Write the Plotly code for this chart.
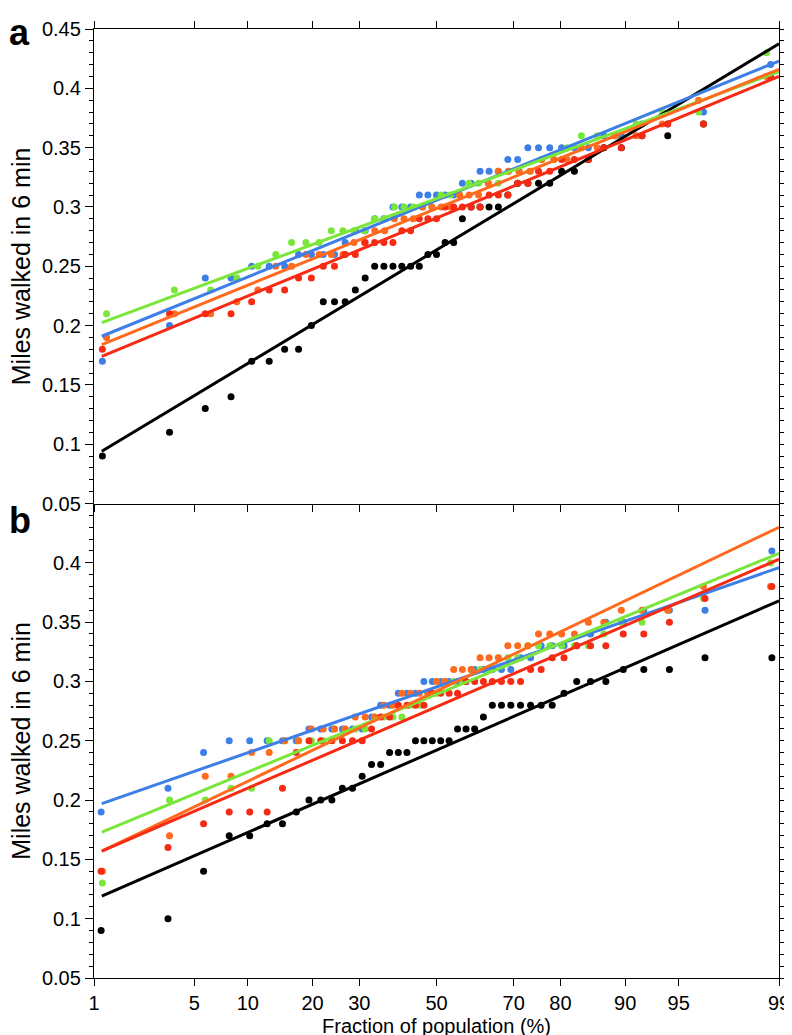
import math
import plotly.graph_objects as go
from plotly.subplots import make_subplots

# ---------------- data (sorted sample values, miles walked in 6 min) ----------------
PCT_TICKS = [1, 5, 10, 20, 30, 50, 70, 80, 90, 95, 99]
Y_TICKS_A = [0.05, 0.1, 0.15, 0.2, 0.25, 0.3, 0.35, 0.4, 0.45]
Y_TICKS_B = [0.05, 0.1, 0.15, 0.2, 0.25, 0.3, 0.35, 0.4]

# panel a
black_a = [0.09, 0.11, 0.13, 0.14, 0.17, 0.17, 0.18, 0.18, 0.20, 0.22, 0.22, 0.22, 0.23, 0.24,
           0.25, 0.25, 0.25, 0.25, 0.25, 0.25, 0.26, 0.26, 0.27, 0.27, 0.29, 0.30, 0.30, 0.30,
           0.30, 0.31, 0.32, 0.32, 0.32, 0.32, 0.33, 0.33, 0.34, 0.35, 0.35, 0.36, 0.36, 0.37, 0.41]
blue_a = [0.17, 0.20, 0.24, 0.24, 0.25, 0.25, 0.25, 0.26, 0.26, 0.26, 0.26, 0.27, 0.28, 0.28,
          0.29, 0.29, 0.30, 0.30, 0.30, 0.31, 0.31, 0.31, 0.31, 0.31, 0.32, 0.32, 0.33, 0.33,
          0.33, 0.34, 0.34, 0.35, 0.35, 0.35, 0.35, 0.35, 0.35, 0.36, 0.36, 0.37, 0.37, 0.38, 0.42]
green_a = [0.21, 0.23, 0.23, 0.24, 0.25, 0.26, 0.27, 0.27, 0.27, 0.28, 0.28, 0.28, 0.28, 0.29,
           0.29, 0.30, 0.30, 0.30, 0.30, 0.30, 0.31, 0.31, 0.31, 0.32, 0.32, 0.32, 0.32, 0.33,
           0.33, 0.33, 0.34, 0.34, 0.35, 0.36, 0.36, 0.36, 0.37, 0.38, 0.38, 0.43]
orange_a = [0.19, 0.21, 0.21, 0.22, 0.23, 0.25, 0.25, 0.26, 0.26, 0.26, 0.26, 0.27, 0.27, 0.28,
            0.28, 0.29, 0.29, 0.29, 0.30, 0.30, 0.30, 0.30, 0.31, 0.31, 0.31, 0.32, 0.33, 0.33,
            0.33, 0.33, 0.34, 0.34, 0.34, 0.35, 0.35, 0.36, 0.36, 0.37, 0.39, 0.41]
red_a = [0.18, 0.21, 0.21, 0.21, 0.22, 0.23, 0.23, 0.24, 0.24, 0.25, 0.25, 0.26, 0.26, 0.27,
         0.27, 0.27, 0.27, 0.28, 0.28, 0.29, 0.29, 0.29, 0.30, 0.30, 0.30, 0.30, 0.30, 0.31,
         0.31, 0.31, 0.32, 0.32, 0.33, 0.33, 0.34, 0.34, 0.34, 0.35, 0.35, 0.36, 0.37, 0.37, 0.41]

# panel b
black_b = [0.09, 0.10, 0.14, 0.17, 0.17, 0.18, 0.18, 0.19, 0.20, 0.20, 0.20, 0.21, 0.21, 0.22,
           0.23, 0.23, 0.24, 0.24, 0.24, 0.25, 0.25, 0.25, 0.25, 0.25, 0.26, 0.26, 0.26, 0.27,
           0.28, 0.28, 0.28, 0.28, 0.28, 0.28, 0.28, 0.29, 0.30, 0.30, 0.30, 0.31, 0.31, 0.31,
           0.32, 0.32]
blue_b = [0.19, 0.21, 0.24, 0.25, 0.25, 0.25, 0.25, 0.25, 0.26, 0.26, 0.26, 0.26, 0.26, 0.26,
          0.27, 0.28, 0.28, 0.29, 0.29, 0.29, 0.30, 0.30, 0.30, 0.30, 0.30, 0.30, 0.31, 0.31,
          0.31, 0.31, 0.31, 0.32, 0.32, 0.33, 0.33, 0.33, 0.33, 0.34, 0.35, 0.35, 0.36, 0.36,
          0.36, 0.41]
green_b = [0.13, 0.20, 0.20, 0.21, 0.21, 0.25, 0.25, 0.25, 0.25, 0.25, 0.26, 0.26, 0.26, 0.26,
           0.27, 0.27, 0.27, 0.27, 0.28, 0.28, 0.29, 0.29, 0.30, 0.30, 0.30, 0.31, 0.31, 0.31,
           0.32, 0.32, 0.32, 0.33, 0.33, 0.33, 0.33, 0.33, 0.33, 0.34, 0.35, 0.35, 0.36, 0.37,
           0.40]
orange_b = [0.14, 0.17, 0.22, 0.22, 0.24, 0.24, 0.25, 0.25, 0.26, 0.26, 0.26, 0.26, 0.27, 0.27,
            0.27, 0.28, 0.28, 0.29, 0.29, 0.29, 0.29, 0.30, 0.30, 0.31, 0.31, 0.31, 0.32, 0.32,
            0.32, 0.33, 0.33, 0.33, 0.34, 0.34, 0.34, 0.34, 0.35, 0.35, 0.36, 0.36, 0.36, 0.38,
            0.38]
red_b = [0.14, 0.16, 0.18, 0.19, 0.19, 0.19, 0.21, 0.24, 0.25, 0.25, 0.25, 0.25, 0.25, 0.25,
         0.26, 0.27, 0.27, 0.28, 0.28, 0.28, 0.28, 0.29, 0.29, 0.29, 0.29, 0.30, 0.30, 0.30,
         0.30, 0.30, 0.30, 0.30, 0.31, 0.31, 0.32, 0.32, 0.33, 0.33, 0.33, 0.34, 0.34, 0.35,
         0.37, 0.38]

# fitted lines: value at the start (1.15 %) and end (99 %) of each line
LINE_PCT = [1.15, 99.0]
fit_a = {"black": [0.094, 0.4375], "blue": [0.191, 0.423], "green": [0.2025, 0.414],
         "orange": [0.184, 0.416], "red": [0.174, 0.410]}
fit_b = {"black": [0.119, 0.368], "blue": [0.197, 0.396], "green": [0.173, 0.408],
         "orange": [0.157, 0.430], "red": [0.157, 0.403]}

COLORS = {"black": "#000000", "blue": "#3d7fe6", "green": "#7ae63a",
          "orange": "#ff6a1e", "red": "#f72a14"}

series_a = {"black": black_a, "blue": blue_a, "green": green_a, "orange": orange_a, "red": red_a}
series_b = {"black": black_b, "blue": blue_b, "green": green_b, "orange": orange_b, "red": red_b}
ORDER = ["black", "blue", "green", "orange", "red"]


# ---------------- normal probability scale ----------------
def norm_ppf(p):
    a = [-3.969683028665376e+01, 2.209460984245205e+02, -2.759285104469687e+02,
         1.383577518672690e+02, -3.066479806614716e+01, 2.506628277459239e+00]
    b = [-5.447609879822406e+01, 1.615858368580409e+02, -1.556989798598866e+02,
         6.680131188771972e+01, -1.328068155288572e+01]
    c = [-7.784894002430293e-03, -3.223964580411365e-01, -2.400758277161838e+00,
         -2.549732539343734e+00, 4.374664141464968e+00, 2.938163982698783e+00]
    d = [7.784695709041462e-03, 3.224671290700398e-01, 2.445134137142996e+00,
         3.754408661907416e+00]
    plow = 0.02425
    if p < plow:
        q = math.sqrt(-2 * math.log(p))
        return (((((c[0]*q + c[1])*q + c[2])*q + c[3])*q + c[4])*q + c[5]) / \
               ((((d[0]*q + d[1])*q + d[2])*q + d[3])*q + 1)
    if p <= 1 - plow:
        q = p - 0.5
        r = q * q
        return (((((a[0]*r + a[1])*r + a[2])*r + a[3])*r + a[4])*r + a[5]) * q / \
               (((((b[0]*r + b[1])*r + b[2])*r + b[3])*r + b[4])*r + 1)
    q = math.sqrt(-2 * math.log(1 - p))
    return -(((((c[0]*q + c[1])*q + c[2])*q + c[3])*q + c[4])*q + c[5]) / \
           ((((d[0]*q + d[1])*q + d[2])*q + d[3])*q + 1)


def pz(pct):
    return norm_ppf(pct / 100.0)


def plotting_positions(n):
    return [pz((i + 0.5) / n * 100.0) for i in range(n)]


# ---------------- figure ----------------
fig = make_subplots(rows=2, cols=1, shared_xaxes=True, vertical_spacing=0)

for row, series, fits in [(1, series_a, fit_a), (2, series_b, fit_b)]:
    for name in ORDER:
        vals = series[name]
        fig.add_trace(go.Scatter(
            x=plotting_positions(len(vals)), y=vals, mode="markers",
            marker=dict(color=COLORS[name], size=7, line=dict(width=0)),
            showlegend=False, hoverinfo="skip"), row=row, col=1)
    for name in ORDER:
        fig.add_trace(go.Scatter(
            x=[pz(p) for p in LINE_PCT], y=fits[name], mode="lines",
            line=dict(color=COLORS[name], width=3),
            showlegend=False, hoverinfo="skip"), row=row, col=1)

FONT = "Liberation Sans, Arial, Helvetica, sans-serif"
zr = [pz(1), pz(99)]
xt = [pz(p) for p in PCT_TICKS]

common_x = dict(range=zr, tickvals=xt, ticktext=[str(p) for p in PCT_TICKS],
                ticks="outside", ticklen=7, tickwidth=1.3, tickcolor="black",
                showline=True, linecolor="black", linewidth=1.3,
                showgrid=False, zeroline=False,
                tickfont=dict(family=FONT, size=20, color="black"))
fig.update_xaxes(**common_x, mirror="ticks", showticklabels=False, row=1, col=1)
fig.update_xaxes(**common_x, mirror=False, showticklabels=True, row=2, col=1)

common_y = dict(range=[0.05, 0.45], ticks="outside", ticklen=8, tickwidth=1.3,
                tickcolor="black", showline=True, linecolor="black", linewidth=1.3,
                mirror="ticks", showgrid=False, zeroline=False,
                minor=dict(dtick=0.01, tick0=0.05, ticks="outside", ticklen=4,
                           tickwidth=1.2, tickcolor="black", showgrid=False),
                tickfont=dict(family=FONT, size=20, color="black"))
fig.update_yaxes(**common_y, tickvals=Y_TICKS_A, ticktext=[f"{v:g}" for v in Y_TICKS_A],
                 row=1, col=1)
fig.update_yaxes(**common_y, tickvals=Y_TICKS_B, ticktext=[f"{v:g}" for v in Y_TICKS_B],
                 row=2, col=1)

annotations = [
    dict(text="<b>a</b>", x=0, y=1.0, xref="paper", yref="paper", xanchor="left",
         yanchor="top", xshift=-87, yshift=19, showarrow=False,
         font=dict(family=FONT, size=36, color="black")),
    dict(text="<b>b</b>", x=0, y=0.5, xref="paper", yref="paper", xanchor="left",
         yanchor="top", xshift=-87, yshift=6, showarrow=False,
         font=dict(family=FONT, size=36, color="black")),
    dict(text="Miles walked in 6 min", x=0, y=0.75, xref="paper", yref="paper",
         xanchor="center", yanchor="middle", xshift=-73, textangle=-90, showarrow=False,
         font=dict(family=FONT, size=25, color="black")),
    dict(text="Miles walked in 6 min", x=0, y=0.25, xref="paper", yref="paper",
         xanchor="center", yanchor="middle", xshift=-73, textangle=-90, showarrow=False,
         font=dict(family=FONT, size=25, color="black")),
    dict(text="Fraction of population (%)", x=0.5, y=0, xref="paper", yref="paper",
         xanchor="center", yanchor="middle", yshift=-48, showarrow=False,
         font=dict(family=FONT, size=20, color="black")),
]

fig.update_layout(width=792, height=1035, margin=dict(l=86, r=12, t=10, b=65),
                  plot_bgcolor="white", paper_bgcolor="white",
                  annotations=annotations, showlegend=False)

fig.write_html("out.html")
